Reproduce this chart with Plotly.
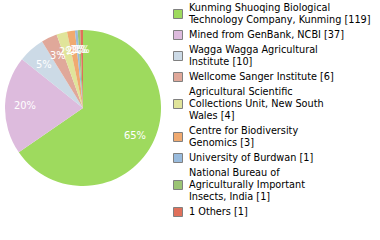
import math
import plotly.graph_objects as go

labels = [
    "Kunming Shuoqing Biological|Technology Company, Kunming [119]",
    "Mined from GenBank, NCBI [37]",
    "Wagga Wagga Agricultural|Institute [10]",
    "Wellcome Sanger Institute [6]",
    "Agricultural Scientific|Collections Unit, New South|Wales [4]",
    "Centre for Biodiversity|Genomics [3]",
    "University of Burdwan [1]",
    "National Bureau of|Agriculturally Important|Insects, India [1]",
    "1 Others [1]",
]
values = [119, 37, 10, 6, 4, 3, 1, 1, 1]
colors = ["#9EDA5E", "#DDBBDD", "#CCDAE6", "#E0A89A", "#E0E49A",
          "#F0AA70", "#99BBDD", "#9BC474", "#E0705A"]

W, H = 380, 240
FONT = "DejaVu Sans Condensed, DejaVu Sans"

# pie placement (pixels)
PX0, PX1, PY0, PY1 = 5, 161, 30, 186
cx, cy = (PX0 + PX1) / 2, (PY0 + PY1) / 2
R = (PX1 - PX0) / 2

fig = go.Figure()

fig.add_trace(go.Pie(
    values=values,
    labels=[l.replace("|", " ") for l in labels],
    marker=dict(colors=colors, line=dict(width=0)),
    sort=False,
    direction="clockwise",
    rotation=0,
    textinfo="none",
    domain=dict(x=[PX0 / W, PX1 / W], y=[(H - PY1) / H, (H - PY0) / H]),
    showlegend=False,
    hoverinfo="skip",
))

# percentage labels placed at 3/4 radius along each slice's mid-angle
total = sum(values)
annotations = []
cum = 0
for v in values:
    mid = (cum + v / 2) / total * 2 * math.pi
    cum += v
    annotations.append(dict(
        x=cx + 0.75 * R * math.sin(mid),
        y=cy - 0.75 * R * math.cos(mid),
        xref="x", yref="y",
        text=f"{round(v / total * 100)}%",
        showarrow=False, xanchor="center", yanchor="middle",
        font=dict(size=11, color="white", family=FONT),
    ))

# legend built from the label list
line_pitch = 12
item_gap = 3
y = 8
mk_y, txt_y, txt = [], [], []
for lab in labels:
    lines = lab.split("|")
    ys = [y + i * line_pitch for i in range(len(lines))]
    mk_y.append(sum(ys) / len(ys))
    txt_y.extend(ys)
    txt.extend(lines)
    y = ys[-1] + line_pitch + item_gap

fig.add_trace(go.Scatter(
    x=[178] * len(labels), y=mk_y, mode="markers",
    marker=dict(symbol="square", size=9, color=colors,
                line=dict(color="#808080", width=1)),
    showlegend=False, hoverinfo="skip",
))
fig.add_trace(go.Scatter(
    x=[189] * len(txt), y=txt_y, mode="text", text=txt,
    textposition="middle right",
    textfont=dict(size=10.8, color="black", family=FONT),
    showlegend=False, hoverinfo="skip",
))

fig.update_layout(
    width=W, height=H,
    margin=dict(l=0, r=0, t=0, b=0),
    paper_bgcolor="white", plot_bgcolor="rgba(0,0,0,0)",
    xaxis=dict(range=[0, W], visible=False, fixedrange=True),
    yaxis=dict(range=[H, 0], visible=False, fixedrange=True),
    annotations=annotations,
)

fig.write_html("out.html")
